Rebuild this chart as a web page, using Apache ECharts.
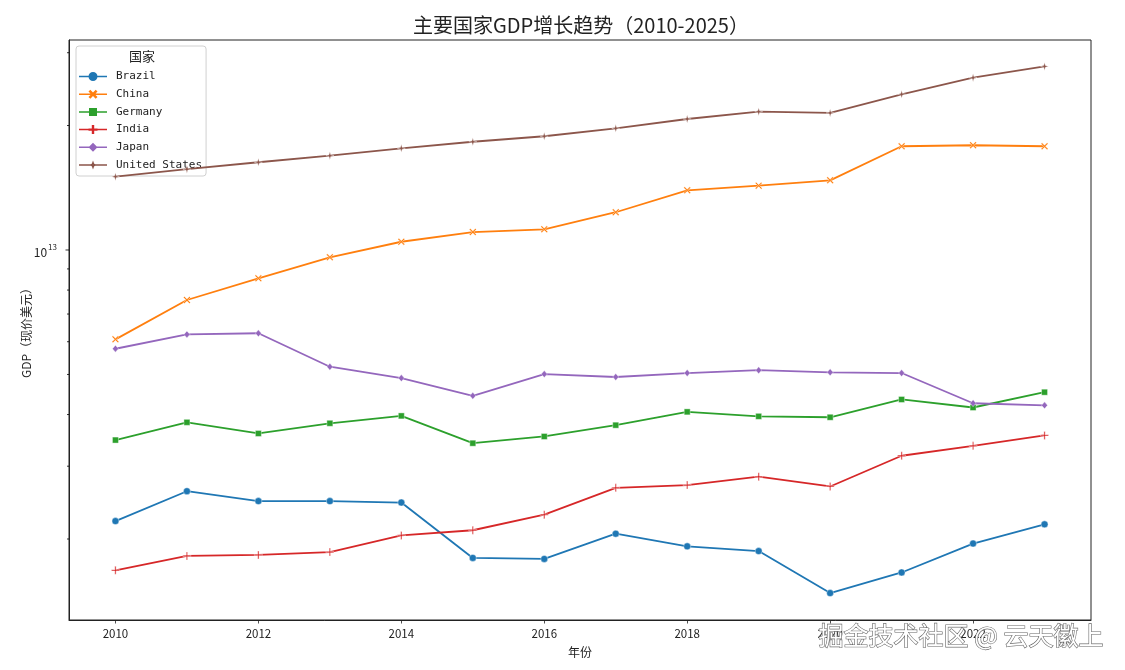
<!DOCTYPE html>
<html>
<head>
<meta charset="utf-8">
<script src="https://cdn.jsdelivr.net/npm/echarts@6/dist/echarts.min.js"></script>
<style>
html,body{margin:0;padding:0;background:#fff;}
#chart{width:1125px;height:670px;}
</style>
</head>
<body>
<div id="chart"></div>
<script>
// ---- data ----
const years = [2010,2011,2012,2013,2014,2015,2016,2017,2018,2019,2020,2021,2022,2023];
const countries = ['Brazil','China','Germany','India','Japan','United States'];
const brazil  = [2.21e12,2.61e12,2.47e12,2.47e12,2.45e12,1.80e12,1.79e12,2.06e12,1.92e12,1.87e12,1.48e12,1.66e12,1.95e12,2.17e12];
const china   = [6.08e12,7.57e12,8.54e12,9.60e12,1.047e13,1.105e13,1.122e13,1.234e13,1.394e13,1.431e13,1.474e13,1.782e13,1.792e13,1.782e13];
const germany = [3.47e12,3.83e12,3.60e12,3.81e12,3.97e12,3.41e12,3.54e12,3.77e12,4.06e12,3.96e12,3.94e12,4.35e12,4.16e12,4.53e12];
const india   = [1.68e12,1.82e12,1.83e12,1.86e12,2.04e12,2.10e12,2.29e12,2.66e12,2.70e12,2.83e12,2.68e12,3.18e12,3.36e12,3.56e12];
const japan   = [5.77e12,6.25e12,6.29e12,5.22e12,4.90e12,4.44e12,5.01e12,4.93e12,5.04e12,5.12e12,5.06e12,5.04e12,4.26e12,4.21e12];
const usa     = [1.504e13,1.568e13,1.630e13,1.691e13,1.762e13,1.827e13,1.884e13,1.969e13,2.074e13,2.160e13,2.145e13,2.380e13,2.610e13,2.780e13];
const xTickLabels = [2010,2012,2014,2016,2018,2020,2022];
const yMajorTicks = [1e13];
const yMinorTicks = [2e12,3e12,4e12,5e12,6e12,7e12,8e12,9e12,2e13,3e13];
const titleText = '主要国家GDP增长趋势（2010-2025）';
const xName = '年份';
const yName = 'GDP（现价美元）';
const legendTitle = '国家';
const watermark = '掘金技术社区 @ 云天徽上';

// ---- style ----
const colors = ['#1f77b4','#ff7f0e','#2ca02c','#d62728','#9467bd','#8c564b'];
const symbols = [
  'circle',
  'path://M0,1.4 L1.4,0 L5,3.6 L8.6,0 L10,1.4 L6.4,5 L10,8.6 L8.6,10 L5,6.4 L1.4,10 L0,8.6 L3.6,5 Z',
  'rect',
  'path://M4.2,0 H5.8 V4.2 H10 V5.8 H5.8 V10 H4.2 V5.8 H0 V4.2 H4.2 Z',
  'diamond',
  'path://M5,0 L6.1,3.9 L10,5 L6.1,6.1 L5,10 L3.9,6.1 L0,5 L3.9,3.9 Z'
];
const symbolSizes = [7,7,6,8,[6,7],8];
// legend icons: line + marker, drawn in a 28x9 box
const legendIcons = [
  'path://M0,3.75 H9.7 V5.25 H0 Z M18.3,3.75 H28 V5.25 H18.3 Z M14,0 A4.5,4.5 0 1 1 14,9 A4.5,4.5 0 1 1 14,0 Z',
  'path://M0,3.75 H12.2 V5.25 H0 Z M15.8,3.75 H28 V5.25 H15.8 Z M9.5,1.8 L11.3,0 L14,2.7 L16.7,0 L18.5,1.8 L15.8,4.5 L18.5,7.2 L16.7,9 L14,6.3 L11.3,9 L9.5,7.2 L12.2,4.5 Z',
  'path://M0,3.75 H10 V5.25 H0 Z M18,3.75 H28 V5.25 H18 Z M10,0.5 H18 V8.5 H10 Z',
  'path://M0,3.75 H9.5 V5.25 H0 Z M18.5,3.75 H28 V5.25 H18.5 Z M12.8,0 H15.2 V3.3 H18.5 V5.7 H15.2 V9 H12.8 V5.7 H9.5 V3.3 H12.8 Z',
  'path://M0,3.75 H10.3 V5.25 H0 Z M17.7,3.75 H28 V5.25 H17.7 Z M14,0 L18.5,4.5 L14,9 L9.5,4.5 Z',
  'path://M0,3.75 H11.6 V5.25 H0 Z M16.4,3.75 H28 V5.25 H16.4 Z M14,0 L15.2,3.3 L18.5,4.5 L15.2,5.7 L14,9 L12.8,5.7 L9.5,4.5 L12.8,3.3 Z'
];
const seriesData = [brazil, china, germany, india, japan, usa];
const X_MIN = 2009.35, X_MAX = 2023.65, Y_MIN = 1.274e12, Y_MAX = 3.22e13;
const FONT = '"Noto Sans CJK SC", "DejaVu Sans", sans-serif';
const MONO = '"DejaVu Sans Mono", "Liberation Mono", monospace';

const chart = echarts.init(document.getElementById('chart'), null, {renderer:'canvas'});

const lineSeries = countries.map((name, i) => ({
  name: name,
  type: 'line',
  data: years.map((y, k) => [y, seriesData[i][k]]),
  symbol: symbols[i],
  symbolSize: symbolSizes[i],
  showSymbol: true,
  lineStyle: {width: 1.8, color: colors[i]},
  itemStyle: {color: colors[i], borderColor: '#fff', borderWidth: 0.4},
  emphasis: {disabled: true},
  z: 3 + i
}));

function tickSeries(values, len) {
  return {
    type: 'custom',
    silent: true,
    clip: false,
    z: 10,
    data: values.map(v => [X_MIN, v]),
    renderItem: function (params, api) {
      const p = api.coord([api.value(0), api.value(1)]);
      const x = params.coordSys.x;
      return {
        type: 'line',
        shape: {x1: x - len, y1: p[1], x2: x, y2: p[1]},
        style: {stroke: '#000', lineWidth: 0.8}
      };
    }
  };
}

const option = {
  animation: false,
  backgroundColor: '#fff',
  color: colors,
  title: {
    text: titleText,
    left: 413,
    top: 15,
    padding: 0,
    textStyle: {fontFamily: FONT, fontSize: 20, fontWeight: 'normal', color: '#222'}
  },
  grid: {
    left: 69, right: 34, top: 40, bottom: 50,
    show: true, borderColor: '#222', borderWidth: 1, backgroundColor: 'transparent'
  },
  legend: {
    data: countries.map((n, i) => ({name: n, icon: legendIcons[i], itemStyle: {color: colors[i], borderWidth: 0}})),
    orient: 'vertical',
    left: 76,
    top: 46,
    padding: [23.5, 4, 4, 3],
    itemGap: 3.7,
    itemWidth: 28,
    itemHeight: 9,
    itemStyle: {borderWidth: 0, borderColor: 'transparent'},
    backgroundColor: 'rgba(255,255,255,0.85)',
    borderColor: '#d0d0d0',
    borderWidth: 1,
    borderRadius: 3,
    textStyle: {fontFamily: MONO, fontSize: 11, lineHeight: 14, color: '#222', padding: [0, 0, 0, 4]}
  },
  xAxis: {
    type: 'value',
    min: X_MIN,
    max: X_MAX,
    name: xName,
    nameLocation: 'middle',
    nameGap: 26,
    nameTextStyle: {fontFamily: FONT, fontSize: 12, color: '#222'},
    splitLine: {show: false},
    axisLine: {show: true, lineStyle: {color: '#222', width: 1}},
    axisTick: {show: true, length: 3.5, customValues: xTickLabels, lineStyle: {color: '#222', width: 0.8}},
    axisLabel: {
      customValues: xTickLabels,
      margin: 8,
      fontFamily: FONT, fontSize: 11.5, color: '#222',
      formatter: v => String(Math.round(v))
    }
  },
  yAxis: {
    type: 'log',
    logBase: 10,
    min: Y_MIN,
    max: Y_MAX,
    name: yName,
    nameLocation: 'middle',
    nameGap: 37,
    nameMoveOverlap: false,
    nameRotate: 90,
    nameTextStyle: {fontFamily: FONT, fontSize: 12, color: '#222'},
    splitLine: {show: false},
    axisLine: {show: true, lineStyle: {color: '#222', width: 1}},
    axisTick: {show: false},
    axisLabel: {
      margin: 12,
      fontFamily: FONT, fontSize: 12, color: '#222',
      formatter: function (v) {
        for (const t of yMajorTicks) {
          if (Math.abs(v - t) / t < 1e-3) {
            const e = Math.round(Math.log10(t));
            return '{b|10}{s|' + e + '}';
          }
        }
        return '';
      },
      rich: {
        b: {fontFamily: FONT, fontSize: 12, color: '#222', padding: [4, 0, 0, 0]},
        s: {fontFamily: FONT, fontSize: 8, color: '#222', padding: [0, 0, 6, 1]}
      }
    }
  },
  graphic: [
    {
      type: 'text',
      left: 129,
      top: 50,
      z: 100,
      style: {text: legendTitle, fontFamily: FONT, fontSize: 13, fill: '#222'}
    },
    {
      type: 'text',
      left: 818,
      top: 622,
      z: 100,
      style: {text: watermark, fontFamily: FONT, fontSize: 25, fill: '#ffffff', stroke: '#666', lineWidth: 1.2}
    }
  ],
  series: lineSeries.concat([
    tickSeries(yMinorTicks, 2),
    tickSeries(yMajorTicks, 3.5)
  ])
};
chart.setOption(option);
</script>
</body>
</html>
